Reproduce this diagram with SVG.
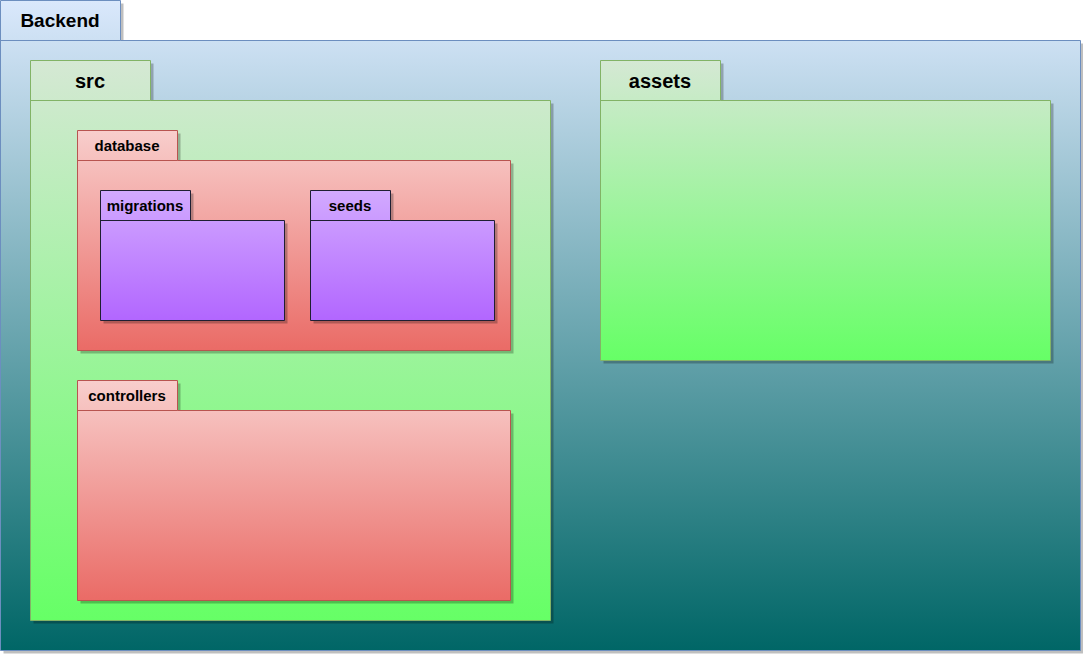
<svg xmlns="http://www.w3.org/2000/svg" width="1083" height="654" viewBox="0 0 1083 654">
<defs>
<linearGradient id="gBlue" x1="0" y1="0" x2="0" y2="1"><stop offset="0" stop-color="#dae8fc"/><stop offset="1" stop-color="#006666"/></linearGradient>
<linearGradient id="gGreen" x1="0" y1="0" x2="0" y2="1"><stop offset="0" stop-color="#d5e8d4"/><stop offset="1" stop-color="#66ff66"/></linearGradient>
<linearGradient id="gRed" x1="0" y1="0" x2="0" y2="1"><stop offset="0" stop-color="#f8cecc"/><stop offset="1" stop-color="#ea6b66"/></linearGradient>
<linearGradient id="gPurple" x1="0" y1="0" x2="0" y2="1"><stop offset="0" stop-color="#d2aaff"/><stop offset="1" stop-color="#b266ff"/></linearGradient>
</defs>
<style>
.sh{fill:#000;opacity:0.25}
.blue{fill:url(#gBlue);stroke:#6c8ebf;stroke-width:1}
.green{fill:url(#gGreen);stroke:#82b366;stroke-width:1}
.red{fill:url(#gRed);stroke:#b85450;stroke-width:1}
.purple{fill:url(#gPurple);stroke:#1f1f33;stroke-width:1}
.t{font-family:"Liberation Sans",Arial,sans-serif;font-weight:bold;fill:#000;text-anchor:middle}
.big{font-size:20px}
.mid{font-size:19px}
.sm{font-size:15px}
</style>
<rect width="1083" height="654" fill="#ffffff"/>
<g id="backend">
<path class="sh" transform="translate(3,3)" d="M0.5,0.5H120.5V40.5H1080.5V650.5H0.5Z"/>
<path class="blue" d="M0.5,0.5H120.5V40.5H1080.5V650.5H0.5Z"/>
<line x1="0.5" y1="40.5" x2="120.5" y2="40.5" stroke="#6c8ebf"/>
<text class="t mid" x="60" y="27">Backend</text>
</g>
<g id="src">
<path class="sh" transform="translate(3,3)" d="M30.5,60.5H150.5V100.5H550.5V620.5H30.5Z"/>
<path class="green" d="M30.5,60.5H150.5V100.5H550.5V620.5H30.5Z"/>
<line x1="30.5" y1="100.5" x2="150.5" y2="100.5" stroke="#82b366"/>
<text class="t big" x="90" y="88">src</text>
</g>
<g id="assets">
<path class="sh" transform="translate(3,3)" d="M600.5,60.5H720.5V100.5H1050.5V360.5H600.5Z"/>
<path class="green" d="M600.5,60.5H720.5V100.5H1050.5V360.5H600.5Z"/>
<line x1="600.5" y1="100.5" x2="720.5" y2="100.5" stroke="#82b366"/>
<text class="t big" x="660" y="88">assets</text>
</g>
<g id="database">
<path class="sh" transform="translate(3,3)" d="M77.5,130.5H177.5V160.5H510.5V350.5H77.5Z"/>
<path class="red" d="M77.5,130.5H177.5V160.5H510.5V350.5H77.5Z"/>
<line x1="77.5" y1="160.5" x2="177.5" y2="160.5" stroke="#b85450"/>
<text class="t sm" x="127" y="151">database</text>
</g>
<g id="migrations">
<path class="sh" transform="translate(3,3)" d="M100.5,190.5H190.5V220.5H284.5V320.5H100.5Z"/>
<path class="purple" d="M100.5,190.5H190.5V220.5H284.5V320.5H100.5Z"/>
<line x1="100.5" y1="220.5" x2="190.5" y2="220.5" stroke="#1f1f33"/>
<text class="t sm" x="145" y="211">migrations</text>
</g>
<g id="seeds">
<path class="sh" transform="translate(3,3)" d="M310.5,190.5H390.5V220.5H494.5V320.5H310.5Z"/>
<path class="purple" d="M310.5,190.5H390.5V220.5H494.5V320.5H310.5Z"/>
<line x1="310.5" y1="220.5" x2="390.5" y2="220.5" stroke="#1f1f33"/>
<text class="t sm" x="350" y="211">seeds</text>
</g>
<g id="controllers">
<path class="sh" transform="translate(3,3)" d="M77.5,380.5H177.5V410.5H510.5V600.5H77.5Z"/>
<path class="red" d="M77.5,380.5H177.5V410.5H510.5V600.5H77.5Z"/>
<line x1="77.5" y1="410.5" x2="177.5" y2="410.5" stroke="#b85450"/>
<text class="t sm" x="127" y="401">controllers</text>
</g>
<g id="connectors"/>
</svg>
